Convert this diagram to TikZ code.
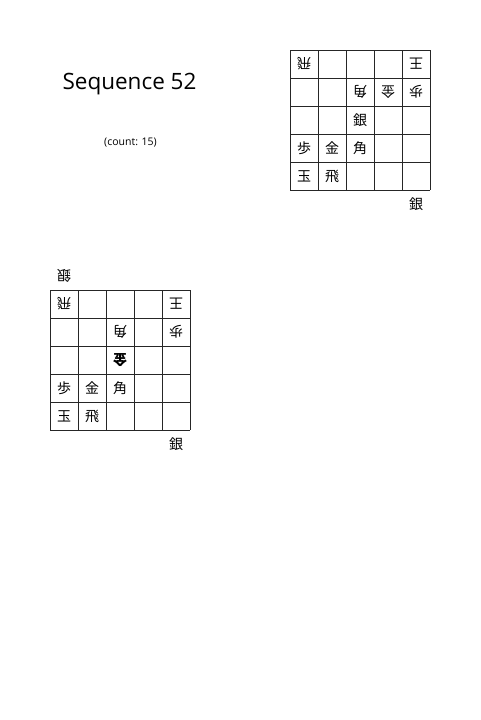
\documentclass[tikz,border=0pt]{standalone}
\usepackage{fontspec}
\setmainfont{Open Sans}
\newfontfamily\cjk{Noto Sans CJK JP}
\tikzset{
  gridline/.style={draw=black!85, line width=0.8pt},
  piece/.style={font=\cjk\fontsize{14}{14}\selectfont, inner sep=0pt},
  opp/.style={piece, rotate=180},
  title/.style={font=\fontsize{22.5}{26}\selectfont, inner sep=0pt},
  sub/.style={font=\fontsize{10.5}{12}\selectfont, inner sep=0pt}
}
\begin{document}
\begin{tikzpicture}[x=1pt,y=-1pt]
\useasboundingbox (0,0) rectangle (480,720);
\node[title] (ttl) at (129.5,84.5) {Sequence 52};
\node[sub] (cnt) at (130.5,143) {(count: 15)};
% board 1
\begin{scope}[shift={(290,50)}, x=28pt, y=-28pt]
  \foreach \i in {0,...,5} {
    \draw[gridline] (\i,0) -- (\i,5);
    \draw[gridline] (0,\i) -- (5,\i);
  }
  \node[opp] (a11) at (0.5,0.5) {飛};
  \node[opp] (a15) at (4.5,0.5) {王};
  \node[opp] (a23) at (2.5,1.5) {角};
  \node[opp] (a24) at (3.5,1.5) {金};
  \node[opp] (a25) at (4.5,1.5) {歩};
  \node[piece] (a33) at (2.5,2.5) {銀};
  \node[piece] (a41) at (0.5,3.5) {歩};
  \node[piece] (a42) at (1.5,3.5) {金};
  \node[piece] (a43) at (2.5,3.5) {角};
  \node[piece] (a51) at (0.5,4.5) {玉};
  \node[piece] (a52) at (1.5,4.5) {飛};
  \node[piece] (ahand) at (4.5,5.5) {銀};
\end{scope}
% board 2
\begin{scope}[shift={(50,290)}, x=28pt, y=-28pt]
  \foreach \i in {0,...,5} {
    \draw[gridline] (\i,0) -- (\i,5);
    \draw[gridline] (0,\i) -- (5,\i);
  }
  \node[opp] (bhand) at (0.5,-0.5) {銀};
  \node[opp] (b11) at (0.5,0.5) {飛};
  \node[opp] (b15) at (4.5,0.5) {王};
  \node[opp] (b23) at (2.5,1.5) {角};
  \node[opp] (b25) at (4.5,1.5) {歩};
  \node[opp, font=\cjk\bfseries\fontsize{14}{14}\selectfont] (b33) at (2.5,2.5) {金};
  \node[piece] (b41) at (0.5,3.5) {歩};
  \node[piece] (b42) at (1.5,3.5) {金};
  \node[piece] (b43) at (2.5,3.5) {角};
  \node[piece] (b51) at (0.5,4.5) {玉};
  \node[piece] (b52) at (1.5,4.5) {飛};
  \node[piece] (bhand2) at (4.5,5.5) {銀};
\end{scope}
\end{tikzpicture}
\end{document}
